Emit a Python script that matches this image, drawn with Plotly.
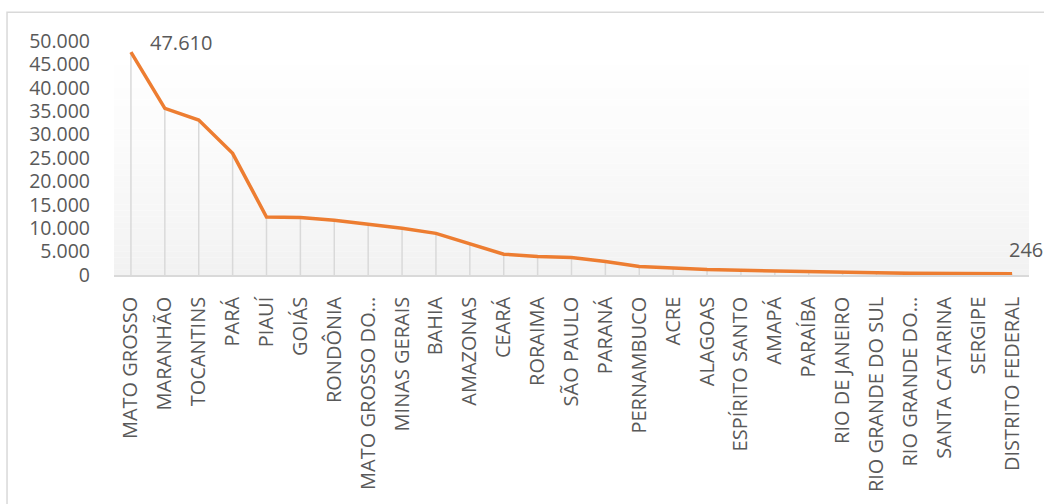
import plotly.graph_objects as go

# Area by state, in descending order
states = [
    "MATO GROSSO", "MARANHÃO", "TOCANTINS", "PARÁ", "PIAUÍ", "GOIÁS",
    "RONDÔNIA", "MATO GROSSO DO…", "MINAS GERAIS", "BAHIA", "AMAZONAS",
    "CEARÁ", "RORAIMA", "SÃO PAULO", "PARANÁ", "PERNAMBUCO", "ACRE",
    "ALAGOAS", "ESPÍRITO SANTO", "AMAPÁ", "PARAÍBA", "RIO DE JANEIRO",
    "RIO GRANDE DO SUL", "RIO GRANDE DO…", "SANTA CATARINA", "SERGIPE",
    "DISTRITO FEDERAL",
]
values = [
    47610, 35600, 33100, 26000, 12400, 12300,
    11700, 10900, 10000, 8900, 6600,
    4450, 3950, 3750, 2900, 1800, 1500,
    1150, 1000, 900, 850, 700,
    500, 350, 300, 280,
    246,
]
y_ticks = [0, 5000, 10000, 15000, 20000, 25000, 30000, 35000, 40000, 45000, 50000]

TEXT = "#595959"
GRID = "#d9d9d9"
FONT = "Open Sans"


def fmt(v):
    return f"{v:,}".replace(",", ".")


fig = go.Figure()

# vertical drop lines from each point to the category axis
drop_x, drop_y = [], []
for s, v in zip(states, values):
    drop_x += [s, s, None]
    drop_y += [0, v, None]
fig.add_trace(go.Scatter(
    x=drop_x, y=drop_y, mode="lines",
    line=dict(color=GRID, width=1.5),
    hoverinfo="skip", showlegend=False,
))

fig.add_trace(go.Scatter(
    x=states, y=values, mode="lines",
    line=dict(color="#ED7D31", width=3.5),
    showlegend=False,
))

# soft vertical gradient behind the plot area
bands = 40
shapes = []
for i in range(bands):
    t = i / (bands - 1)
    c = round(255 - 13 * (1 - t) ** 1.3)
    shapes.append(dict(
        type="rect", xref="x domain", yref="y domain",
        x0=0, x1=1, y0=i / bands, y1=(i + 1) / bands,
        fillcolor=f"rgb({c},{c},{c})", line=dict(width=0), layer="below",
    ))
# chart frame
shapes.append(dict(
    type="rect", xref="paper", yref="paper",
    x0=-0.1169, x1=1.03, y0=-1.1, y1=1.1229,
    line=dict(color=GRID, width=1.5), fillcolor="rgba(0,0,0,0)", layer="above",
))

annotations = [
    dict(x=states[0], y=values[0], text=fmt(values[0]), showarrow=False,
         xanchor="left", yanchor="middle", xshift=17, yshift=10,
         font=dict(family=FONT, size=20, color=TEXT)),
    dict(x=states[-1], y=values[-1], text=fmt(values[-1]), showarrow=False,
         xanchor="center", yanchor="middle", xshift=14, yshift=24,
         font=dict(family=FONT, size=20, color=TEXT)),
]

fig.update_layout(
    width=1044, height=504,
    margin=dict(l=114, r=15, t=41, b=227),
    paper_bgcolor="white", plot_bgcolor="rgba(0,0,0,0)",
    separators=",.",
    shapes=shapes, annotations=annotations,
    font=dict(family=FONT, size=20, color=TEXT),
)
fig.update_xaxes(
    type="category", categoryorder="array", categoryarray=states,
    range=[-0.5, len(states) - 0.5],
    tickangle=-90, showgrid=False, zeroline=False,
    showline=True, linecolor=GRID, linewidth=1.5,
    ticks="", ticklabelstandoff=12,
    tickfont=dict(family=FONT, size=20, color=TEXT),
)
fig.update_yaxes(
    range=[0, 50000], tickvals=y_ticks, tickformat=",d",
    showgrid=False, zeroline=False, showline=False,
    ticks="", ticklabelstandoff=23,
    tickfont=dict(family=FONT, size=19.5, color=TEXT),
)

fig.write_html("out.html")
